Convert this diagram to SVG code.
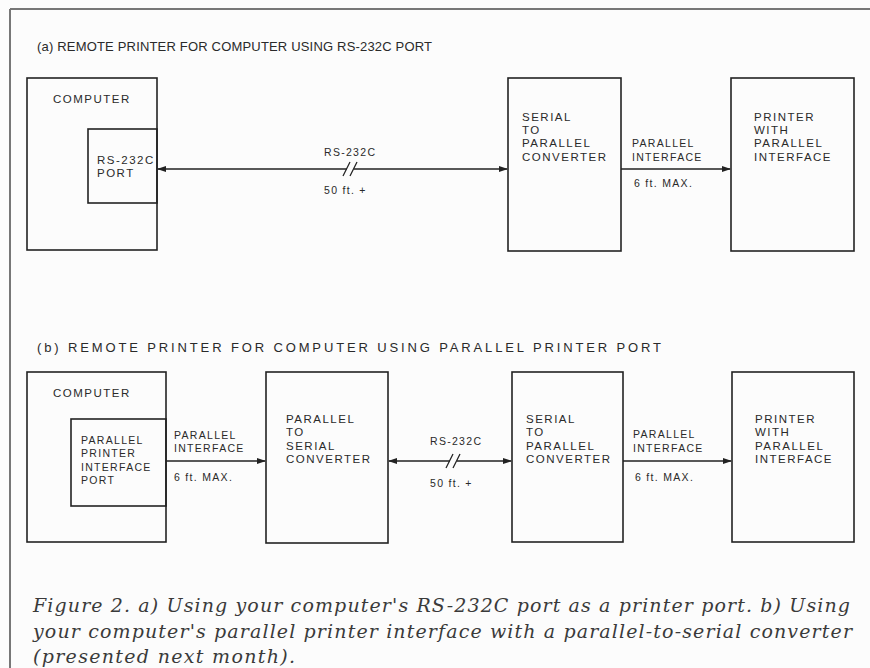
<svg xmlns="http://www.w3.org/2000/svg" width="870" height="668" viewBox="0 0 870 668">
<style>
.bg{fill:#fcfcfc}
.frame{stroke:#777;stroke-width:2;fill:none}
.box{fill:none;stroke:#222;stroke-width:1.6}
.lbl{font-family:"Liberation Sans",Arial,sans-serif;font-size:11.5px;letter-spacing:1.5px;fill:#2a2a2a}
.sm{font-family:"Liberation Sans",Arial,sans-serif;font-size:10.5px;letter-spacing:1.3px;fill:#2a2a2a}
.title{font-family:"Liberation Sans",Arial,sans-serif;font-size:13px;fill:#2a2a2a}
.cap{font-family:"DejaVu Serif","Liberation Serif",serif;font-style:italic;font-size:19px;fill:#3a3a3a}
.wire{stroke:#222;stroke-width:1.6;fill:none}
.brk{stroke:#222;stroke-width:1.3;fill:none}
</style>
<defs>
<marker id="ah" markerWidth="9" markerHeight="7" refX="8" refY="3.5" orient="auto-start-reverse" markerUnits="userSpaceOnUse">
<path d="M0,0.5 L9,3.5 L0,6.5 z" fill="#222"/>
</marker>
</defs>
<rect class="bg" x="0" y="0" width="870" height="668"/>
<g id="frame">
<line class="frame" x1="10" y1="9" x2="870" y2="9"/>
<line class="frame" x1="10" y1="9" x2="10" y2="668"/>
</g>

<text class="title" x="37" y="51" textLength="395" lengthAdjust="spacing">(a) REMOTE PRINTER FOR COMPUTER USING RS-232C PORT</text>
<text class="title" x="37" y="352" font-size="14" textLength="624" lengthAdjust="spacing">(b) REMOTE PRINTER FOR COMPUTER USING PARALLEL PRINTER PORT</text>

<!-- Part (a) -->
<g id="a-computer">
<rect class="box" x="27" y="78" width="130" height="172"/>
<text class="lbl" x="53" y="103">COMPUTER</text>
</g>
<g id="a-port">
<rect class="box" x="88" y="129" width="69" height="74"/>
<text class="lbl" x="97" y="164">RS-232C</text>
<text class="lbl" x="97" y="177">PORT</text>
</g>
<g id="a-converter">
<rect class="box" x="508" y="78" width="113" height="173"/>
<text class="lbl" x="522" y="121">SERIAL</text>
<text class="lbl" x="522" y="134">TO</text>
<text class="lbl" x="522" y="147">PARALLEL</text>
<text class="lbl" x="522" y="161">CONVERTER</text>
</g>
<g id="a-printer">
<rect class="box" x="731" y="78" width="123" height="173"/>
<text class="lbl" x="754" y="121">PRINTER</text>
<text class="lbl" x="754" y="134">WITH</text>
<text class="lbl" x="754" y="147">PARALLEL</text>
<text class="lbl" x="754" y="161">INTERFACE</text>
</g>

<!-- Part (b) -->
<g id="b-computer">
<rect class="box" x="27" y="372" width="139" height="170"/>
<text class="lbl" x="53" y="397">COMPUTER</text>
</g>
<g id="b-port">
<rect class="box" x="71" y="419" width="95" height="87"/>
<text class="sm" x="81" y="444">PARALLEL</text>
<text class="sm" x="81" y="457">PRINTER</text>
<text class="sm" x="81" y="471">INTERFACE</text>
<text class="sm" x="81" y="484">PORT</text>
</g>
<g id="b-p2s">
<rect class="box" x="266" y="372" width="122" height="171"/>
<text class="lbl" x="286" y="423">PARALLEL</text>
<text class="lbl" x="286" y="436">TO</text>
<text class="lbl" x="286" y="450">SERIAL</text>
<text class="lbl" x="286" y="463">CONVERTER</text>
</g>
<g id="b-s2p">
<rect class="box" x="512" y="372" width="111" height="170"/>
<text class="lbl" x="526" y="423">SERIAL</text>
<text class="lbl" x="526" y="436">TO</text>
<text class="lbl" x="526" y="450">PARALLEL</text>
<text class="lbl" x="526" y="463">CONVERTER</text>
</g>
<g id="b-printer">
<rect class="box" x="732" y="372" width="122" height="170"/>
<text class="lbl" x="755" y="423">PRINTER</text>
<text class="lbl" x="755" y="436">WITH</text>
<text class="lbl" x="755" y="450">PARALLEL</text>
<text class="lbl" x="755" y="463">INTERFACE</text>
</g>

<g id="connectors">
<!-- (a) RS-232C link -->
<line class="wire" x1="158" y1="169" x2="347" y2="169" marker-start="url(#ah)"/>
<line class="wire" x1="354" y1="169" x2="507" y2="169" marker-end="url(#ah)"/>
<line class="brk" x1="343" y1="176" x2="350" y2="162"/>
<line class="brk" x1="350" y1="176" x2="357" y2="162"/>
<text class="sm" x="324" y="156">RS-232C</text>
<text class="sm" x="324" y="194">50 ft. +</text>
<!-- (a) parallel link -->
<line class="wire" x1="621" y1="169" x2="730" y2="169" marker-end="url(#ah)"/>
<text class="sm" x="632" y="147">PARALLEL</text>
<text class="sm" x="632" y="161">INTERFACE</text>
<text class="sm" x="634" y="187">6 ft. MAX.</text>

<!-- (b) parallel link from computer -->
<line class="wire" x1="166" y1="461" x2="265" y2="461" marker-end="url(#ah)"/>
<text class="sm" x="174" y="439">PARALLEL</text>
<text class="sm" x="174" y="452">INTERFACE</text>
<text class="sm" x="174" y="481">6 ft. MAX.</text>
<!-- (b) RS-232C link -->
<line class="wire" x1="389" y1="461" x2="450" y2="461" marker-start="url(#ah)"/>
<line class="wire" x1="457" y1="461" x2="511" y2="461" marker-end="url(#ah)"/>
<line class="brk" x1="446" y1="468" x2="453" y2="454"/>
<line class="brk" x1="453" y1="468" x2="460" y2="454"/>
<text class="sm" x="430" y="445">RS-232C</text>
<text class="sm" x="430" y="487">50 ft. +</text>
<!-- (b) parallel link to printer -->
<line class="wire" x1="623" y1="461" x2="731" y2="461" marker-end="url(#ah)"/>
<text class="sm" x="633" y="438">PARALLEL</text>
<text class="sm" x="633" y="452">INTERFACE</text>
<text class="sm" x="635" y="481">6 ft. MAX.</text>
</g>

<g id="caption">
<text class="cap" x="33" y="612" textLength="817" lengthAdjust="spacing">Figure 2. a) Using your computer's RS-232C port as a printer port. b) Using</text>
<text class="cap" x="33" y="638" textLength="819" lengthAdjust="spacing">your computer's parallel printer interface with a parallel-to-serial converter</text>
<text class="cap" x="33" y="663" textLength="262" lengthAdjust="spacing">(presented next month).</text>
</g>
</svg>
